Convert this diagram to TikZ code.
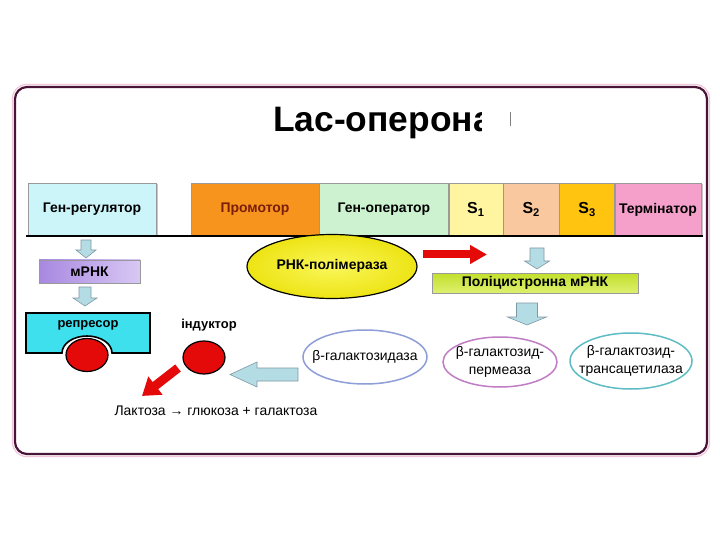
\documentclass[tikz,border=0pt]{standalone}
\usepackage{fontspec}
\setmainfont{Liberation Sans}
\usetikzlibrary{arrows.meta, positioning, shapes.geometric, shadows}

\definecolor{frameC}{HTML}{4A1438}
\definecolor{glowC}{HTML}{F2C6DA}
\definecolor{regC}{HTML}{CCF5FA}
\definecolor{promC}{HTML}{F7941D}
\definecolor{promT}{HTML}{7A1E0A}
\definecolor{operC}{HTML}{CCF2D0}
\definecolor{sOneC}{HTML}{FFF5A0}
\definecolor{sTwoC}{HTML}{F9C89E}
\definecolor{sThreeC}{HTML}{FFC40F}
\definecolor{termC}{HTML}{F59FCB}
\definecolor{mrnaL}{HTML}{A888E0}
\definecolor{mrnaR}{HTML}{D8C8F4}
\definecolor{polyT}{HTML}{C2E02A}
\definecolor{polyB}{HTML}{DDF070}
\definecolor{repC}{HTML}{3FE0EE}
\definecolor{redC}{HTML}{E50A0A}
\definecolor{polC}{HTML}{EDE414}
\definecolor{polL}{HTML}{FAF65A}
\definecolor{blkC}{HTML}{B4DCE4}
\definecolor{blkD}{HTML}{8098A4}
\definecolor{galC}{HTML}{8E9ED8}
\definecolor{permC}{HTML}{C07CC4}
\definecolor{transC}{HTML}{5EBCC4}

\begin{document}
\begin{tikzpicture}[x=1bp, y=1bp, >=Stealth,
    gene/.style={draw=gray!80, inner sep=0pt, minimum height=53bp,
      font=\bfseries\fontsize{14}{16}\selectfont,
      drop shadow={shadow xshift=1.5bp, shadow yshift=-1.5bp, opacity=.45}},
    strip/.style={draw=gray!80, inner sep=0pt,
      font=\bfseries\fontsize{14}{16}\selectfont,
      drop shadow={shadow xshift=1.2bp, shadow yshift=-1.2bp, opacity=.35}},
    enz/.style={ellipse, line width=1.5bp, fill=white, inner sep=0pt,
      label={[align=center, font=\fontsize{14}{18}\selectfont]center:#1}},
    blk/.style={fill=blkC, draw=blkD, line width=0.6bp},
    redarr/.style={draw=redC, line width=8bp,
      -{Triangle[length=17bp, width=18bp]}},
    ball/.style={ellipse, draw, line width=1.2bp, fill=redC,
      minimum width=42bp, minimum height=33bp}]

    \useasboundingbox (0,0) rectangle (720,-540);
    \fill[white] (0,0) rectangle (720,-540);

    % frame
    \draw[glowC, line width=1.2bp, rounded corners=14bp] (12.5,-84.5) rectangle (709.5,-456.5);
    \draw[frameC, line width=2.2bp, rounded corners=12bp] (15,-87) rectangle (707,-454);

    % title
    \node[font=\bfseries\fontsize{35.5}{40}\selectfont, anchor=base west, inner sep=0pt] (title) at (273,-132) {Lac-оперона};
    \fill[white] ([xshift=-11bp]title.north east) rectangle ([xshift=6bp]title.south east);
    \draw[gray, line width=0.6bp] (510,-112) -- (510,-126);

    % genes
    \node[gene, fill=regC, minimum width=128bp] (reg) at (92,-209.5) {Ген-регулятор};
    \node[gene, fill=promC, text=promT, minimum width=128bp] (prom) at (255,-209.5) {Промотор};
    \node[gene, fill=operC, minimum width=129bp, right=0pt of prom] (oper) {Ген-оператор};
    \node[gene, fill=sOneC, minimum width=54bp, right=0pt of oper, font=\bfseries\fontsize{16}{18}\selectfont] (s1) {S\textsubscript{1}};
    \node[gene, fill=sTwoC, minimum width=56bp, right=0pt of s1, font=\bfseries\fontsize{16}{18}\selectfont] (s2) {S\textsubscript{2}};
    \node[gene, fill=sThreeC, minimum width=55bp, right=0pt of s2, font=\bfseries\fontsize{16}{18}\selectfont] (s3) {S\textsubscript{3}};
    \node[gene, fill=termC, minimum width=86bp, right=0pt of s3] (term) {Термінатор};
    \draw[line width=2bp] ([xshift=-2bp]reg.south west) -- ([xshift=2bp]term.south east);

    % RNA polymerase
    \node[ellipse, draw, line width=1.2bp, inner color=polL, outer color=polC,
      minimum width=170bp, minimum height=64bp,
      font=\bfseries\fontsize{14}{16}\selectfont] (pol) at (332,-266.5) {\raisebox{4bp}{РНК-полімераза}};
    \coordinate (ps) at (423,-254.5);
    \coordinate (pe) at (487,-254.5);
    \draw[redarr] (ps) -- (pe);

    % left column
    \draw[blk] (81,-240) -- (91,-240) -- (91,-250) -- (96,-250) -- (86,-258) -- (76,-250) -- (81,-250) -- cycle;
    \node[strip, left color=mrnaL, right color=mrnaR, minimum width=101bp, minimum height=23bp] (mrna) at (89.5,-271.5) {мРНК};
    \draw[blk] (79,-287) -- (91,-287) -- (91,-298) -- (97,-298) -- (85,-306) -- (73,-298) -- (79,-298) -- cycle;
    \draw[fill=repC, line width=1.6bp] (26,-313) -- (150,-313) -- (150,-353) -- (112,-353)
      arc[start angle=0, end angle=180, x radius=25, y radius=17] -- (26,-353) -- cycle;
    \node[font=\bfseries\fontsize{13}{15}\selectfont] (rep) at (88,-325) {репресор};
    \node[ball] (lac) at (87,-355) {};

    % inductor
    \node[font=\bfseries\fontsize{13}{15}\selectfont] (indl) at (209,-325) {індуктор};
    \node[ball] (ind) at (204,-357.5) {};
    \coordinate (rs) at (178,-368);
    \coordinate (re) at (142,-396);
    \draw[redarr, line width=9bp, -{Triangle[length=17bp, width=22bp]}] (rs) -- (re);
    \node[font=\fontsize{14}{16}\selectfont] (eq) at (216,-411) {Лактоза → глюкоза + галактоза};

    % polycistronic mRNA
    \draw[blk] (530,-248) -- (544,-248) -- (544,-261) -- (549.5,-261) -- (537,-269) -- (524.5,-261) -- (530,-261) -- cycle;
    \node[strip, top color=polyT, bottom color=polyB, minimum width=206bp, minimum height=20bp] (poly) at (535,-283) {Поліцистронна мРНК};
    \draw[blk] (516.5,-303) -- (537.5,-303) -- (537.5,-317) -- (546.5,-317) -- (527,-325) -- (507.5,-317) -- (516.5,-317) -- cycle;

    % enzymes
    \node[enz={β-галактозидаза}, draw=galC, minimum width=124bp, minimum height=54bp] (gal) at (365,-357) {};
    \node[enz={β-галактозид-\\пермеаза}, draw=permC, minimum width=114bp, minimum height=50bp] (perm) at (500,-362) {};
    \node[enz={β-галактозид-\\трансацетилаза}, draw=transC, minimum width=122bp, minimum height=56bp] (trans) at (631,-361) {};
    \draw[blk] (298,-368) -- (257,-368) -- (257,-362) -- (230,-374.5) -- (257,-387) -- (257,-381) -- (298,-381) -- cycle;
\end{tikzpicture}
\end{document}
